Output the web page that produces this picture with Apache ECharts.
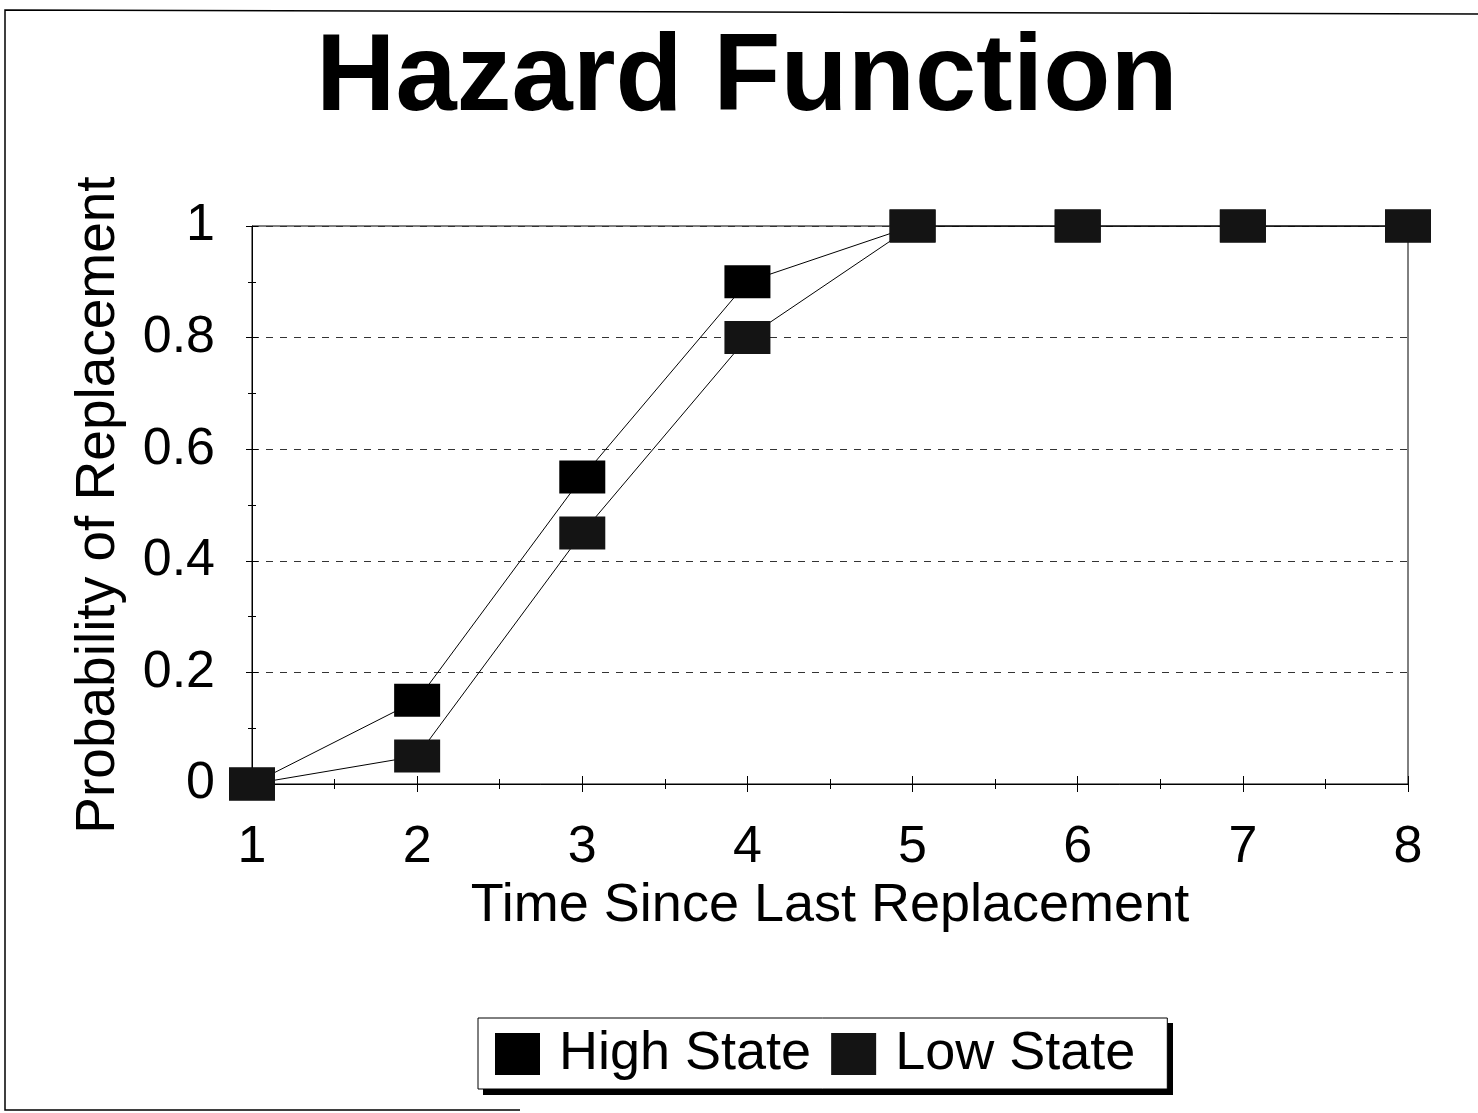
<!DOCTYPE html>
<html>
<head>
<meta charset="utf-8">
<script src="https://cdn.jsdelivr.net/npm/echarts@6/dist/echarts.min.js"></script>
<style>
  html, body { margin: 0; padding: 0; background: #fff; }
  #chart { width: 1478px; height: 1113px; }
</style>
</head>
<body>
<div id="chart"></div>
<script>
// Time since last replacement (x) and replacement probability per state
const times = [1, 2, 3, 4, 5, 6, 7, 8];
const highState = [0, 0.15, 0.55, 0.9, 1, 1, 1, 1];
const lowState = [0, 0.05, 0.45, 0.8, 1, 1, 1, 1];
const yTicks = [0, 0.2, 0.4, 0.6, 0.8, 1];

const FONT = '"Liberation Sans", Arial, Helvetica, sans-serif';

function pairs(values) {
  return times.map((t, i) => [t, values[i]]);
}

const chart = echarts.init(document.getElementById('chart'), null, { renderer: 'canvas' });

const tickLabelStyle = { color: '#000', fontSize: 52, fontFamily: FONT };

// legend box geometry (the drop shadow is drawn as a separate rectangle)
const LEGEND_LEFT = 478, LEGEND_TOP = 1018, LEGEND_W = 690, LEGEND_H = 72;

chart.setOption({
  animation: false,
  backgroundColor: '#fff',
  title: {
    text: 'Hazard Function',
    left: 316,
    top: 25,
    padding: 0,
    textStyle: { color: '#000', fontSize: 110, fontWeight: 'bold', fontFamily: FONT }
  },
  legend: {
    data: ['High State', 'Low State'],
    left: LEGEND_LEFT,
    top: LEGEND_TOP,
    orient: 'horizontal',
    icon: 'rect',
    itemWidth: 45,
    itemHeight: 42,
    itemGap: 20,
    padding: [9, 32, 8, 17],
    backgroundColor: '#fff',
    borderColor: '#000',
    borderWidth: 1,
    borderRadius: 0,
    z: 10,
    textStyle: { color: '#000', fontSize: 54, fontFamily: FONT, padding: [0, 0, 0, 14] }
  },
  grid: {
    left: 252,
    right: 70,
    top: 226,
    bottom: 329,
    show: true,
    borderColor: '#000',
    borderWidth: 1,
    backgroundColor: 'transparent'
  },
  xAxis: [
    {
      type: 'value',
      min: times[0],
      max: times[times.length - 1],
      interval: 1,
      name: 'Time Since Last Replacement',
      nameLocation: 'middle',
      nameGap: 87,
      nameTextStyle: { color: '#000', fontSize: 54, fontFamily: FONT },
      axisLine: { show: true, lineStyle: { color: '#000', width: 1 } },
      axisTick: { show: true, inside: false, length: 8, lineStyle: { color: '#000' } },
      minorTick: { show: true, splitNumber: 2, length: 5, lineStyle: { color: '#000' } },
      axisLabel: { ...tickLabelStyle, margin: 38 },
      splitLine: { show: false }
    },
    {
      // inner half of the crossing tick marks
      type: 'value',
      position: 'bottom',
      min: times[0],
      max: times[times.length - 1],
      interval: 1,
      axisLine: { show: false },
      axisTick: { show: true, inside: true, length: 8, lineStyle: { color: '#000' } },
      minorTick: { show: true, splitNumber: 2, length: 5, lineStyle: { color: '#000' } },
      axisLabel: { show: false },
      splitLine: { show: false }
    }
  ],
  yAxis: [
    {
      type: 'value',
      min: yTicks[0],
      max: yTicks[yTicks.length - 1],
      interval: 0.2,
      name: 'Probability of Replacement',
      nameLocation: 'middle',
      nameGap: 126,
      nameTextStyle: { color: '#000', fontSize: 55, fontFamily: FONT },
      axisLine: { show: true, lineStyle: { color: '#000', width: 1 } },
      axisTick: { show: true, inside: false, length: 6, lineStyle: { color: '#000' } },
      minorTick: { show: true, splitNumber: 2, length: 4, lineStyle: { color: '#000' } },
      axisLabel: {
        ...tickLabelStyle,
        margin: 37,
        formatter: v => String(Math.round(v * 10) / 10)
      },
      splitLine: { show: true, lineStyle: { color: '#333', width: 1, type: [7, 7] } }
    },
    {
      type: 'value',
      position: 'left',
      min: yTicks[0],
      max: yTicks[yTicks.length - 1],
      interval: 0.2,
      axisLine: { show: false },
      axisTick: { show: true, inside: true, length: 6, lineStyle: { color: '#000' } },
      minorTick: { show: true, splitNumber: 2, length: 4, lineStyle: { color: '#000' } },
      axisLabel: { show: false },
      splitLine: { show: false }
    }
  ],
  series: [
    {
      name: 'High State',
      type: 'line',
      data: pairs(highState),
      symbol: 'rect',
      symbolSize: [46, 33],
      itemStyle: { color: '#000' },
      lineStyle: { color: '#000', width: 1 },
      z: 3
    },
    {
      name: 'Low State',
      type: 'line',
      data: pairs(lowState),
      symbol: 'rect',
      symbolSize: [46, 33],
      itemStyle: { color: '#141414' },
      lineStyle: { color: '#000', width: 1 },
      z: 4
    }
  ],
  graphic: [
    {
      type: 'polyline',
      shape: { points: [[520, 1110], [5, 1110], [5, 10], [1478, 14]] },
      style: { stroke: '#000', lineWidth: 1.5, fill: null },
      silent: true
    },
    {
      // legend drop shadow
      type: 'rect',
      z: 1,
      shape: { x: LEGEND_LEFT + 5, y: LEGEND_TOP + 5, width: LEGEND_W, height: LEGEND_H },
      style: { fill: '#000' },
      silent: true
    }
  ]
});
</script>
</body>
</html>
